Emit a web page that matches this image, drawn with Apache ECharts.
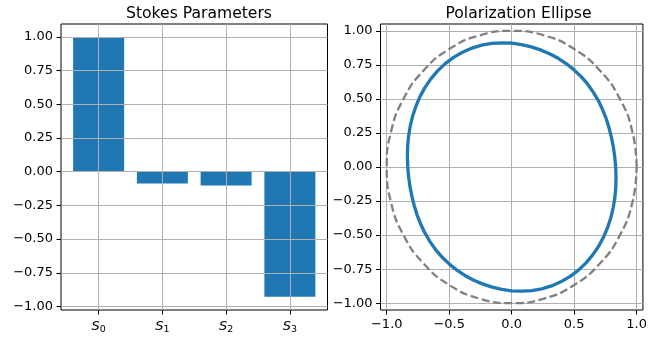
<!DOCTYPE html>
<html><head><meta charset="utf-8">
<script src="https://cdn.jsdelivr.net/npm/echarts@6/dist/echarts.min.js"></script>
<style>html,body{margin:0;padding:0;background:#fff}#c{width:650px;height:337px}</style>
</head><body><div id="c"></div>
<script>
// Stokes parameter bars
const stokesIdx = [0, 1, 2, 3];
const stokesValues = [1.0, -0.087, -0.102, -0.929];
const barYTicks = [-1, -0.75, -0.5, -0.25, 0, 0.25, 0.5, 0.75, 1];
// Polarization ellipse (x, y), closed
const ellipseX = [0.832, 0.825, 0.814, 0.799, 0.780, 0.757, 0.728, 0.694, 0.654, 0.608, 0.556, 0.499, 0.438, 0.372, 0.303, 0.230, 0.156, 0.079,
                  0.000, -0.080, -0.160, -0.240, -0.318, -0.393, -0.465, -0.532, -0.593, -0.647, -0.695, -0.735, -0.768, -0.794, -0.813, -0.826, -0.833, -0.835,
                  -0.832, -0.825, -0.814, -0.799, -0.780, -0.757, -0.728, -0.694, -0.654, -0.608, -0.556, -0.499, -0.438, -0.372, -0.303, -0.230, -0.156, -0.079,
                  0.000, 0.080, 0.160, 0.240, 0.318, 0.393, 0.465, 0.532, 0.593, 0.647, 0.695, 0.735, 0.768, 0.794, 0.813, 0.826, 0.833, 0.835,
                  0.832];
const ellipseY = [0.000, 0.072, 0.144, 0.214, 0.284, 0.353, 0.420, 0.486, 0.548, 0.608, 0.663, 0.713, 0.758, 0.798, 0.832, 0.860, 0.882, 0.899,
                  0.909, 0.912, 0.908, 0.895, 0.873, 0.843, 0.805, 0.759, 0.706, 0.647, 0.583, 0.515, 0.443, 0.370, 0.296, 0.221, 0.147, 0.073,
                  0.000, -0.072, -0.144, -0.214, -0.284, -0.353, -0.420, -0.486, -0.548, -0.608, -0.663, -0.713, -0.758, -0.798, -0.832, -0.860, -0.882, -0.899,
                  -0.909, -0.912, -0.908, -0.895, -0.873, -0.843, -0.805, -0.759, -0.706, -0.647, -0.583, -0.515, -0.443, -0.370, -0.296, -0.221, -0.147, -0.073,
                  0.000];
// Unit circle reference (dashed)
const circleX = [1, 0.966, 0.866, 0.707, 0.5, 0.259, 0, -0.259, -0.5, -0.707, -0.866, -0.966, -1, -0.966, -0.866, -0.707, -0.5, -0.259, 0, 0.259, 0.5, 0.707, 0.866, 0.966, 1];
const circleY = [0, 0.259, 0.5, 0.707, 0.866, 0.966, 1, 0.966, 0.866, 0.707, 0.5, 0.259, 0, -0.259, -0.5, -0.707, -0.866, -0.966, -1, -0.966, -0.866, -0.707, -0.5, -0.259, 0];
const ellXTicks = [-1, -0.5, 0, 0.5, 1];
const ellYTicks = [-1, -0.75, -0.5, -0.25, 0, 0.25, 0.5, 0.75, 1];

const F = 'DejaVu Sans';
const minus = s => s.replace('-', '\u2212');
const gridLine = {show: true, lineStyle: {color: '#b0b0b0', width: 1}};
const tick = {show: true, inside: false, length: 4.5, lineStyle: {color: '#000', width: 1}};
const lab = {color: '#000', fontFamily: F, fontSize: 13, margin: 8};
const noLine = {show: false, onZero: false};

const chart = echarts.init(document.getElementById('c'), null, {renderer: 'canvas'});
chart.setOption({
  animation: false,
  backgroundColor: '#fff',
  title: [
    {text: 'Stokes Parameters', left: 194, top: 1, textAlign: 'center', textStyle: {fontFamily: F, fontSize: 15.6, fontWeight: 'normal', color: '#000'}},
    {text: 'Polarization Ellipse', left: 513.5, top: 1, textAlign: 'center', textStyle: {fontFamily: F, fontSize: 15.6, fontWeight: 'normal', color: '#000'}}
  ],
  grid: [
    {left: 61, top: 24, width: 266.5, height: 286, show: true, borderColor: '#000', borderWidth: 1, backgroundColor: 'transparent'},
    {left: 380.5, top: 24, width: 266, height: 286, show: true, borderColor: '#000', borderWidth: 1, backgroundColor: 'transparent'}
  ],
  xAxis: [
    {gridIndex: 0, type: 'value', min: -0.59, max: 3.59, z: 3, position: 'bottom',
     axisLine: noLine, splitLine: gridLine,
     axisTick: Object.assign({}, tick, {customValues: stokesIdx}),
     axisLabel: Object.assign({}, lab, {customValues: stokesIdx,
       formatter: v => '{i|S}{s|' + Math.round(v) + '}',
       rich: {i: {fontStyle: 'italic', fontFamily: F, fontSize: 13, color: '#000'},
              s: {fontFamily: F, fontSize: 9.5, color: '#000', padding: [7, 0, 0, 0]}}})},
    {gridIndex: 1, type: 'value', min: -1.05, max: 1.05, position: 'bottom',
     axisLine: noLine, splitLine: gridLine,
     axisTick: Object.assign({}, tick, {customValues: ellXTicks}),
     axisLabel: Object.assign({}, lab, {customValues: ellXTicks, formatter: v => minus(v.toFixed(1))})}
  ],
  yAxis: [
    {gridIndex: 0, type: 'value', min: -1.0265, max: 1.0965, z: 3, position: 'left',
     axisLine: noLine, splitLine: gridLine,
     axisTick: Object.assign({}, tick, {customValues: barYTicks}),
     axisLabel: Object.assign({}, lab, {customValues: barYTicks, formatter: v => minus(v.toFixed(2))})},
    {gridIndex: 1, type: 'value', min: -1.05, max: 1.05, position: 'left',
     axisLine: noLine, splitLine: gridLine,
     axisTick: Object.assign({}, tick, {customValues: ellYTicks}),
     axisLabel: Object.assign({}, lab, {customValues: ellYTicks, formatter: v => minus(v.toFixed(2))})}
  ],
  series: [
    {type: 'bar', xAxisIndex: 0, yAxisIndex: 0, barWidth: 51, z: 2,
     itemStyle: {color: '#1f77b4'},
     data: stokesIdx.map((x, i) => [x, stokesValues[i]])},
    {type: 'line', xAxisIndex: 1, yAxisIndex: 1, smooth: 0.5, symbol: 'none', z: 3,
     lineStyle: {color: '#808080', width: 2.3, type: [8, 3.5]},
     data: circleX.map((x, i) => [x, circleY[i]])},
    {type: 'line', xAxisIndex: 1, yAxisIndex: 1, smooth: false, symbol: 'none', z: 4,
     lineStyle: {color: '#1f77b4', width: 3.3, join: 'round'},
     data: ellipseX.map((x, i) => [x, ellipseY[i]])}
  ]
});
</script></body></html>
